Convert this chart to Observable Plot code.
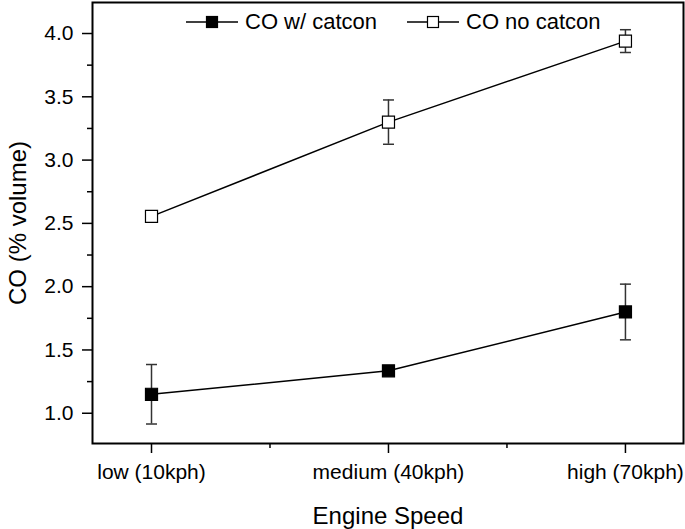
<!DOCTYPE html>
<html><head><meta charset="utf-8">
<script src="https://cdn.jsdelivr.net/npm/d3@7"></script>
<script src="https://cdn.jsdelivr.net/npm/@observablehq/plot@0.6"></script>
<style>
body{margin:0;background:#fff;}
#wrap{position:relative;width:685px;height:529px;font-family:"Liberation Sans",Arial,sans-serif;}
.lg{position:absolute;top:9px;height:26px;display:flex;align-items:center;font-size:22px;line-height:26px;color:#000;white-space:nowrap;}
.lg svg{margin-right:7px;}
</style></head><body><div id="wrap"></div>
<script>
const categories = ["low (10kph)", "medium (40kph)", "high (70kph)"];
const seriesNames = ["CO w/ catcon", "CO no catcon"];
const withCatcon = [1.15, 1.335, 1.80];
const withCatconErr = [0.235, 0.02, 0.22];
const noCatcon = [2.555, 3.30, 3.94];
const noCatconErr = [0.02, 0.175, 0.09];
const yTicks = [1.0, 1.5, 2.0, 2.5, 3.0, 3.5, 4.0];
const yMinor = [1.25, 1.75, 2.25, 2.75, 3.25, 3.75];
const xMinor = [0.5, 1.5];

const data = categories.flatMap((c, i) => [
  {series: seriesNames[0], i, cat: c, v: withCatcon[i], e: withCatconErr[i]},
  {series: seriesNames[1], i, cat: c, v: noCatcon[i], e: noCatconErr[i]}
]);

const hline = {draw(ctx, size) { const w = Math.sqrt(size / Math.PI); ctx.moveTo(-w, 0); ctx.lineTo(w, 0); }};

const chart = Plot.plot({
  width: 685, height: 529,
  marginLeft: 92, marginRight: 2, marginTop: 2, marginBottom: 86,
  style: {fontFamily: "Liberation Sans, Arial, sans-serif", fontSize: "21px", color: "#000", background: "#fff", overflow: "visible"},
  x: {type: "linear", domain: [-0.249, 2.245]},
  y: {domain: [0.761, 4.245]},
  marks: [
    Plot.axisY({ticks: yMinor, tickSize: 5, tickFormat: () => "", strokeWidth: 1.5, label: null}),
    Plot.axisY({ticks: yTicks, tickSize: 10, tickPadding: 9, tickFormat: d3.format(".1f"), strokeWidth: 1.5,
      label: "CO (% volume)", labelAnchor: "center", labelOffset: 84, labelArrow: "none"}),
    Plot.axisX({ticks: xMinor, tickSize: 5, tickFormat: () => "", strokeWidth: 1.5, label: null}),
    Plot.axisX({ticks: [0, 1, 2], tickSize: 10, tickPadding: 11, tickFormat: i => categories[i], strokeWidth: 1.5,
      label: "Engine Speed", labelAnchor: "center", labelOffset: 80, labelArrow: "none"}),
    Plot.frame({stroke: "#000", strokeWidth: 2}),
    Plot.line(data, {x: "i", y: "v", z: "series", stroke: "#000", strokeWidth: 1.5}),
    Plot.ruleX(data, {x: "i", y1: d => d.v - d.e, y2: d => d.v + d.e, stroke: "#333", strokeWidth: 1.5}),
    Plot.dot(data, {x: "i", y: d => d.v + d.e, symbol: hline, r: 5.5, stroke: "#333", strokeWidth: 1.5}),
    Plot.dot(data, {x: "i", y: d => d.v - d.e, symbol: hline, r: 5.5, stroke: "#333", strokeWidth: 1.5}),
    Plot.dot(data.filter(d => d.series === seriesNames[0]), {x: "i", y: "v", symbol: "square", r: 6.8, fill: "#000", stroke: "#000", strokeWidth: 1.2}),
    Plot.dot(data.filter(d => d.series === seriesNames[1]), {x: "i", y: "v", symbol: "square", r: 6.8, fill: "#fff", stroke: "#000", strokeWidth: 1.2})
  ]
});
chart.querySelectorAll('g[aria-label="x-axis label"] text, g[aria-label="y-axis label"] text').forEach(t => t.setAttribute("font-size", "24px"));
const wrap = document.getElementById("wrap");
wrap.appendChild(chart);

const legendLefts = [186, 407];
seriesNames.forEach((name, k) => {
  const div = document.createElement("div");
  div.className = "lg";
  div.style.left = legendLefts[k] + "px";
  const fill = k === 0 ? "#000" : "#fff";
  div.innerHTML = `<svg width="52" height="14"><line x1="0" y1="7" x2="52" y2="7" stroke="#000" stroke-width="1.5"/><rect x="20.5" y="1.5" width="11" height="11" fill="${fill}" stroke="#000" stroke-width="1.2"/></svg><span>${name}</span>`;
  wrap.appendChild(div);
});
</script>
</body></html>
